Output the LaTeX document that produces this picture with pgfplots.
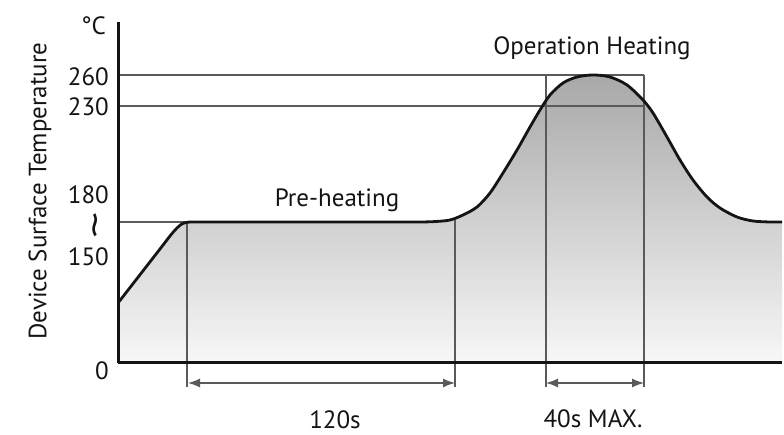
\documentclass[border=0pt]{standalone}
\usepackage{fontspec}
\setmainfont{PT Sans}
\usepackage{graphicx}
\usepackage{pgfplots}
\pgfplotsset{compat=1.18}
\usetikzlibrary{arrows.meta}
\newcommand\f{\fontsize{25}{30}\selectfont}
\definecolor{ink}{HTML}{141414}
\definecolor{guide}{HTML}{5A5A5A}
\pgfplotstableread{
x y
0 60
14 78
28 96
42 114
52 127
58 134
63 138.5
68 140.5
74 141
90 141
110 141
130 141
150 141
170 141
190 141
210 141
230 141
250 141
270 141
290 141
304 141
318 141.5
332 143
345 148
359 156
372 170
385 190
399 213
412 236
422 253
432 268
445 280
459 286
475 288
492 286
509 278
525 263
535 250
549 226
562 203
575 183
589 166
602 155
619 146
635 142
652 141
664 141
}\profile
\begin{document}
\begin{tikzpicture}
\begin{axis}[
  at={(118pt,72pt)}, anchor=south west,
  scale only axis, width=664pt, height=341pt,
  xmin=0, xmax=664, ymin=0, ymax=341,
  axis lines=left, axis line style={-, line width=3pt, ink},
  axis on top, clip=false,
  xtick=\empty,
  ytick={106,138,168.5,256,286},
  yticklabels={150,{\rotatebox{90}{\scalebox{2.1}[1.5]{\textasciitilde}}},180,230,260},
  extra y ticks={0}, extra y tick labels={0},
  extra y tick style={yticklabel style={yshift=-8pt}},
  major tick length=0pt,
  yticklabel style={font=\f, text=ink, anchor=east, inner sep=0pt, xshift=-9pt},
]
% shaded area under the profile
\addplot[draw=none, smooth, tension=0.5, top color=black!34, bottom color=black!3]
  table {\profile} \closedcycle;
% guide lines
\addplot[guide, line width=1.3pt] coordinates {(0,288) (526,288)};
\addplot[guide, line width=1.3pt] coordinates {(0,257) (526,257)};
\addplot[guide, line width=1.3pt] coordinates {(0,141) (70,141)};
\addplot[guide, line width=1.3pt] coordinates {(69,141) (69,-24)};
\addplot[guide, line width=1.3pt] coordinates {(337,143) (337,-24)};
\addplot[guide, line width=1.3pt] coordinates {(428,288) (428,-24)};
\addplot[guide, line width=1.3pt] coordinates {(526,288) (526,-24)};
\addplot[guide, line width=1.3pt, {Latex[length=12pt,width=9pt]}-{Latex[length=12pt,width=9pt]}]
  coordinates {(70,-20) (337,-20)};
\addplot[guide, line width=1.3pt, {Latex[length=12pt,width=9pt]}-{Latex[length=12pt,width=9pt]}]
  coordinates {(428,-20) (526,-20)};
% temperature profile
\addplot[ink, line width=2.8pt, smooth, tension=0.5] table {\profile};
% texts
\node[font=\f, text=ink, anchor=base] at (axis cs:219,156) {Pre-heating};
\node[font=\f, text=ink, anchor=base] at (axis cs:474,308) {Operation Heating};
\node[font=\f, text=ink, anchor=base] at (axis cs:217,-66) {120s};
\node[font=\f, text=ink, anchor=base] at (axis cs:475,-65) {40s MAX.};
\node[font=\f, text=ink, anchor=base] at (axis cs:-24.5,328) {°C};
\node[font=\f, text=ink, rotate=90] at (axis cs:-78,172) {Device Surface Temperature};
\end{axis}
\pgfresetboundingbox
\useasboundingbox (0,0) rectangle (784pt,435pt);
\end{tikzpicture}
\end{document}
